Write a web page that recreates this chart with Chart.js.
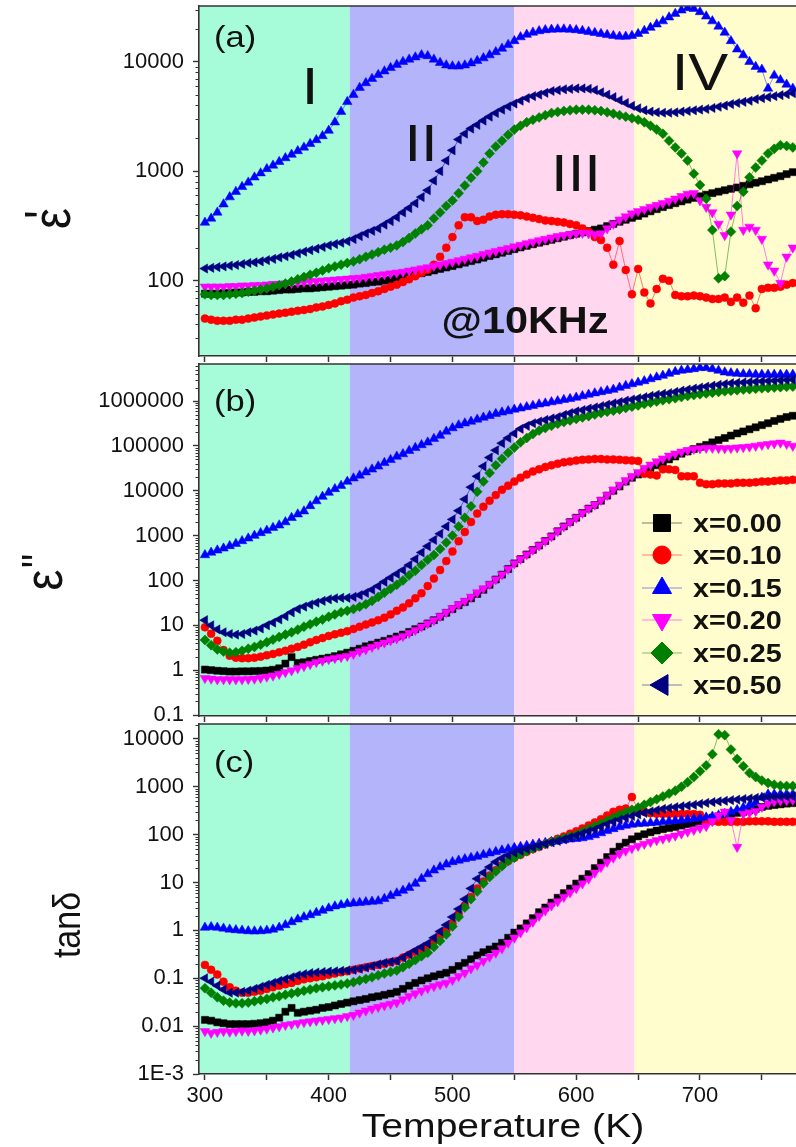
<!DOCTYPE html>
<html>
<head>
<meta charset="utf-8">
<script src="https://cdn.jsdelivr.net/npm/chart.js@4.4.1/dist/chart.umd.min.js"></script>
<style>
html, body { margin: 0; padding: 0; background: #ffffff; overflow: hidden; width: 796px; height: 1147px; }
canvas { position: absolute; left: 0; }
</style>
</head>
<body>
<canvas id="panelA" width="805" height="380" style="top:0px"></canvas>
<canvas id="panelB" width="805" height="380" style="top:358px"></canvas>
<canvas id="panelC" width="805" height="429" style="top:718px"></canvas>
<script>
// Temperature grid (K)
const temperatureK = [
  300,305,310,315,320,325,330,335,340,345,
  350,355,360,365,370,375,380,385,390,395,
  400,405,410,415,420,425,430,435,440,445,
  450,455,460,465,470,475,480,485,490,495,
  500,505,510,515,520,525,530,535,540,545,
  550,555,560,565,570,575,580,585,590,595,
  600,605,610,615,620,625,630,635,640,645,
  650,655,660,665,670,675,680,685,690,695,
  700,705,710,715,720,725,730,735,740,745,
  750,755,760,765,770,775];

const seriesNames = ['x=0.00', 'x=0.10', 'x=0.15', 'x=0.20', 'x=0.25', 'x=0.50'];

// ---- ε' at 10 kHz ----
const eps1_x000 = [
  76,76,76,77,77,78,78,79,79,80, 80,81,82,83,83,84,85,85,86,87,
  88,89,90,91,92,94,95,97,98,100, 102,105,108,111,114,117,120,124,128,132,
  136,141,146,151,156,162,168,174,180,187, 194,201,208,215,222,229,236,244,252,260,
  268,276,284,292,300,315,330,345,360,375, 390,410,430,450,470,490,510,530,550,570,
  590,610,630,650,670,690,710,735,760,785, 810,840,870,900,940,980];
const eps1_x010 = [
  45,44,43,43,43,44,44,45,46,47, 48,49,50,51,52,53,54,55,57,58,
  60,62,65,67,70,72,74,77,80,84, 88,92,97,103,110,118,126,140,165,200,
  250,320,380,380,350,360,385,400,405,405, 400,395,385,375,365,355,350,345,340,330,
  320,300,280,250,235,200,140,230,125,75, 128,78,62,84,104,100,74,72,72,73,
  72,70,68,68,70,64,70,63,73,56, 84,86,86,88,92,95];
const eps1_x015 = [
  340,370,420,500,580,650,720,790,880,960, 1050,1130,1220,1320,1420,1530,1650,1780,1930,2100,
  2350,2800,3500,4300,5000,5800,6400,7000,7600,8200, 8800,9400,10000,10500,11000,11500,11300,10500,9800,9300,
  9100,9100,9300,9700,10200,10800,11500,12300,13200,14300, 15500,16800,17700,18500,19100,19500,19700,19800,19800,19700,
  19500,19200,18800,18400,18000,17600,17300,17000,17000,17300, 18000,19200,20500,22000,23500,25500,27500,29500,31000,30500,
  28500,26000,23500,21000,18500,15500,13000,11500,10000,9000, 8500,5700,7500,6800,6200,5700];
const eps1_x020 = [
  88,88,88,88,89,89,90,90,91,91, 92,93,93,94,95,96,97,98,99,100,
  101,102,103,104,105,106,108,110,112,114, 116,118,120,123,126,129,132,136,140,144,
  148,153,158,163,168,174,180,186,192,198, 205,212,219,226,233,240,247,254,260,265,
  270,272,270,265,270,300,330,360,385,410, 430,450,470,490,510,535,560,590,620,630,
  540,470,420,330,260,400,1450,290,310,290, 240,140,123,95,165,200];
const eps1_x025 = [
  75,74,74,74,75,76,77,79,81,83, 85,88,91,94,98,103,108,113,118,124,
  130,135,140,145,150,157,165,173,182,192, 200,210,225,245,270,295,320,370,420,480,
  540,630,740,870,1000,1200,1450,1680,1900,2150, 2400,2600,2800,2950,3100,3250,3400,3480,3550,3600,
  3650,3650,3650,3600,3550,3450,3350,3250,3150,3050, 2950,2800,2600,2400,2200,1900,1650,1450,1250,950,
  750,560,290,105,110,280,480,650,880,1080, 1250,1450,1600,1730,1700,1650];
const eps1_x050 = [
  129,131,133,135,137,139,142,145,147,150, 154,158,163,167,172,178,184,190,196,203,
  210,216,222,229,240,255,270,285,300,325, 350,380,420,460,510,580,670,820,1000,1250,
  1550,1950,2200,2450,2650,2900,3150,3400,3650,3900, 4150,4400,4650,4850,5000,5200,5400,5500,5600,5650,
  5700,5700,5650,5500,5250,5000,4750,4450,4200,3950, 3750,3600,3500,3450,3420,3420,3450,3500,3550,3600,
  3650,3700,3780,3880,3980,4100,4200,4300,4400,4550, 4650,4750,4850,4950,5050,5150];

// ---- ε'' at 10 kHz ----
const eps2_x000 = [
  1.03,1.0,0.97,0.95,0.93,0.93,0.94,0.94,0.95,0.96, 0.98,1.02,1.1,1.4,1.95,1.45,1.5,1.6,1.7,1.8,
  1.9,2.05,2.25,2.45,2.7,3.0,3.4,3.7,4.1,4.5, 5.0,5.6,6.2,7.1,8.2,9.4,11,13,15.5,19,
  23,28,33,40,50,62,80,105,135,180, 240,300,380,480,600,760,960,1250,1600,2000,
  2500,3200,4000,4800,6000,7800,10000,12500,16000,19500, 23000,27000,32000,37000,43000,50000,58000,67000,75000,85000,
  95000,105000,120000,135000,150000,170000,190000,210000,235000,260000, 290000,320000,360000,400000,440000,470000];
const eps2_x010 = [
  9.0,6.5,4.5,2.8,2.1,1.9,1.85,1.85,1.9,2.0, 2.15,2.3,2.5,2.7,3.0,3.3,3.7,4.2,4.7,5.2,
  5.8,6.3,6.8,7.4,8.3,9.3,10.4,11.6,13,14.8, 17.5,21,25,31,40,52,75,110,170,270,
  440,750,1200,2000,3100,4400,6000,8000,10500,13000, 16000,19500,23000,27000,30000,34000,37000,40000,43000,45000,
  47000,49000,50000,51000,51000,50000,50000,49000,48000,47000, 46000,24000,23000,22000,30000,30000,29000,21000,21000,21000,
  15000,14000,14000,14500,14500,14500,15000,15000,15000,15500, 16000,16000,16500,17000,17000,17500];
const eps2_x015 = [
  370,420,470,520,590,660,760,870,1000,1150, 1300,1500,1700,2000,2500,3000,3500,4600,5900,7400,
  9100,11000,13000,16000,19000,22000,26000,30000,35000,42000, 49000,58000,66000,78000,91000,105000,120000,145000,170000,210000,
  250000,290000,320000,350000,390000,430000,470000,520000,560000,600000, 650000,690000,740000,790000,850000,890000,950000,1.0e6,1.07e6,1.12e6,
  1.2e6,1.3e6,1.4e6,1.5e6,1.6e6,1.7e6,1.8e6,2.0e6,2.2e6,2.4e6, 2.6e6,2.8e6,3.1e6,3.4e6,3.7e6,4.1e6,4.5e6,4.8e6,5.0e6,5.2e6,
  5.5e6,5.5e6,5.2e6,4.8e6,4.4e6,4.2e6,4.1e6,4.0e6,4.0e6,3.9e6, 3.9e6,3.9e6,3.9e6,3.9e6,3.9e6,3.9e6];
const eps2_x020 = [
  0.66,0.64,0.62,0.62,0.62,0.62,0.62,0.63,0.64,0.67, 0.71,0.75,0.82,0.9,0.98,1.1,1.22,1.35,1.5,1.62,
  1.75,1.85,1.95,2.05,2.3,2.6,2.9,3.3,3.7,4.1, 4.6,5.1,5.7,6.7,7.8,9.3,11,13,16,19.5,
  24,29,35,43,54,66,82,105,135,180, 240,300,380,480,600,760,960,1250,1600,2000,
  2500,3200,4000,4900,6200,8000,10500,13500,17000,21000, 26000,32000,38000,45000,52000,60000,67000,74000,80000,85000,
  88000,90000,90000,89000,88000,89000,91000,93000,96000,100000, 105000,109000,113000,117000,110000,100000];
const eps2_x025 = [
  4.7,3.6,2.9,2.6,2.45,2.5,2.7,3.0,3.3,3.7, 4.2,4.8,5.5,6.2,7.0,8.0,9.3,10.5,12,13.5,
  15.5,17.5,19.5,21,23,26,29.5,35,43,53, 65,80,100,130,165,220,290,370,500,700,
  1000,1600,2500,4500,9500,16000,25000,37000,52000,70000, 92000,120000,150000,185000,220000,250000,280000,310000,340000,370000,
  400000,430000,460000,500000,540000,580000,610000,650000,700000,750000, 800000,860000,920000,980000,1.04e6,1.1e6,1.16e6,1.23e6,1.3e6,1.36e6,
  1.42e6,1.48e6,1.54e6,1.6e6,1.66e6,1.7e6,1.75e6,1.8e6,1.84e6,1.88e6, 1.92e6,1.96e6,2.0e6,2.04e6,2.08e6,2.1e6];
const eps2_x050 = [
  13,10,8.1,7.0,6.4,6.2,6.4,7.0,7.6,8.5, 10,11.5,13.5,16,19.5,23,26,29,32,35,
  38,40,41,41,43,47,53,62,75,93, 115,140,170,220,300,420,580,800,1100,1600,
  2300,3600,6500,12000,21000,35000,55000,80000,115000,150000, 190000,240000,280000,320000,350000,380000,410000,440000,490000,540000,
  590000,630000,680000,720000,770000,830000,890000,950000,1.02e6,1.08e6, 1.15e6,1.22e6,1.3e6,1.38e6,1.45e6,1.5e6,1.6e6,1.7e6,1.8e6,1.9e6,
  2.0e6,2.1e6,2.2e6,2.3e6,2.4e6,2.5e6,2.55e6,2.6e6,2.65e6,2.7e6, 2.75e6,2.8e6,2.85e6,2.9e6,2.95e6,3.0e6];

// ---- loss tangent ----
const tan_x000 = [
  0.0135,0.013,0.012,0.0115,0.011,0.011,0.011,0.011,0.0112,0.0115, 0.012,0.013,0.015,0.02,0.024,0.019,0.02,0.021,0.022,0.024,
  0.025,0.027,0.029,0.031,0.033,0.035,0.037,0.04,0.042,0.045, 0.048,0.052,0.06,0.07,0.08,0.09,0.1,0.11,0.12,0.13,
  0.15,0.18,0.21,0.25,0.3,0.35,0.4,0.46,0.55,0.7, 0.9,1.1,1.4,1.8,2.4,3.0,3.8,4.8,6.0,7.5,
  9.5,12,15,20,26,34,44,56,68,80, 92,102,112,122,130,138,145,155,165,175,
  190,205,225,240,255,270,285,300,320,345, 380,400,415,430,445,455];
const tan_x010 = [
  0.19,0.15,0.12,0.085,0.065,0.055,0.05,0.05,0.052,0.055, 0.06,0.065,0.07,0.075,0.08,0.088,0.095,0.1,0.105,0.11,
  0.118,0.125,0.133,0.14,0.15,0.16,0.17,0.18,0.19,0.2, 0.215,0.23,0.27,0.31,0.36,0.41,0.47,0.6,0.78,1.0,
  1.4,2.2,3.3,5.0,7.5,10.5,14,18,23,28, 33,38,44,50,56,63,72,82,92,105,
  118,135,155,180,210,250,300,330,350,610, 330,300,280,275,270,270,270,270,270,270,
  260,190,190,185,185,185,185,185,190,190, 190,190,185,185,185,185];
const tan_x015 = [
  1.15,1.18,1.15,1.1,1.05,1.02,1.0,0.97,0.96,0.97, 1.0,1.05,1.15,1.3,1.5,1.7,1.9,2.1,2.35,2.6,
  2.9,3.2,3.4,3.6,3.7,3.8,3.9,4.0,4.1,4.6, 5.3,6.0,6.8,7.8,9.5,12,15,18,21,24,
  27,29,31,33,35,38,41,44,47,50, 53,56,59,62,65,68,71,74,77,80,
  82,85,90,98,108,120,132,145,155,163, 168,172,176,180,185,190,195,200,208,215,
  222,230,240,255,275,300,330,370,410,470, 600,700,700,700,700,700];
const tan_x020 = [
  0.0078,0.0072,0.0075,0.0078,0.0076,0.0078,0.008,0.0079,0.0081,0.0084, 0.0088,0.0093,0.0098,0.0105,0.011,0.0115,0.012,0.0125,0.013,0.0135,
  0.014,0.0145,0.015,0.016,0.017,0.019,0.021,0.023,0.025,0.027, 0.029,0.031,0.036,0.042,0.048,0.055,0.062,0.068,0.074,0.08,
  0.092,0.11,0.13,0.16,0.19,0.23,0.28,0.34,0.42,0.55, 0.7,0.9,1.15,1.5,2.0,2.6,3.3,4.0,5.0,6.2,
  7.6,9.5,12,16,21,27,33,40,46,52, 58,64,70,76,82,88,95,105,115,125,
  138,150,190,250,300,200,55,270,290,310, 380,450,490,510,520,530];
const tan_x025 = [
  0.062,0.05,0.04,0.034,0.031,0.03,0.03,0.031,0.033,0.035, 0.037,0.04,0.042,0.045,0.048,0.051,0.055,0.058,0.062,0.065,
  0.068,0.071,0.074,0.078,0.083,0.09,0.097,0.105,0.115,0.125, 0.135,0.145,0.17,0.2,0.24,0.29,0.34,0.45,0.6,0.82,
  1.2,1.9,3.0,4.5,6.5,9.5,13,17,22,28, 33,39,45,51,57,64,71,78,85,93,
  100,115,132,150,170,195,225,260,295,330, 370,420,480,550,630,720,830,1000,1250,1600,
  2100,2800,4800,12500,12000,6000,3800,2700,1950,1600, 1350,1200,1100,1050,1040,1040];
const tan_x050 = [
  0.1,0.085,0.07,0.058,0.05,0.05,0.052,0.055,0.06,0.066, 0.073,0.08,0.088,0.096,0.105,0.115,0.122,0.128,0.132,0.135,
  0.138,0.14,0.143,0.146,0.15,0.158,0.168,0.18,0.195,0.21, 0.22,0.23,0.27,0.32,0.38,0.45,0.53,0.7,0.95,1.3,
  1.9,2.8,4.5,7.5,12,16,21,27,32,37, 42,46,50,54,59,64,69,74,80,88,
  96,106,117,128,145,165,185,205,225,245, 265,285,305,325,345,360,375,390,405,420,
  440,460,480,495,510,525,540,555,570,585, 600,610,615,620,625,630];

// axis ticks and labels
const xTickValues = [300, 350, 400, 450, 500, 550, 600, 650, 700, 750];
const xTickLabels = [300, 400, 500, 600, 700];
const yTicksA = [100, 1000, 10000];
const yLabelsA = ['100', '1000', '10000'];
const yTicksB = [0.1, 1, 10, 100, 1000, 10000, 100000, 1000000];
const yLabelsB = ['0.1', '1', '10', '100', '1000', '10000', '100000', '1000000'];
const yTicksC = [0.001, 0.01, 0.1, 1, 10, 100, 1000, 10000];
const yLabelsC = ['1E-3', '0.01', '0.1', '1', '10', '100', '1000', '10000'];

// temperature regions I-IV
const regionEdges = [417, 550, 647];
const regionNames = ['I', 'II', 'III', 'IV'];
const regionColors = ['#a6fbd8', '#b4b4fb', '#ffd7ef', '#fffccd'];

const FONT = '"Liberation Sans", Arial, Helvetica, sans-serif';
const STRETCH = 1.15;
const X_MIN = 295.2, X_MAX = 780;
const AXIS_COLOR = '#333333';

const colors = ['#000000', '#ff0000', '#0000ff', '#ff00ff', '#008000', '#000080'];
const lineColors = ['rgba(0,0,0,0.5)', 'rgba(255,0,0,0.5)', 'rgba(0,0,255,0.45)',
                    'rgba(255,0,255,0.5)', 'rgba(0,128,0,0.5)', 'rgba(0,0,128,0.5)'];
const markers = [
  { style: 'rect', rot: 0, r: 5, lr: 12 },
  { style: 'circle', rot: 0, r: 4, lr: 9 },
  { style: 'triangle', rot: 0, r: 5.5, lr: 11 },
  { style: 'triangle', rot: 180, r: 5.5, lr: 11 },
  { style: 'rectRot', rot: 0, r: 5, lr: 11 },
  { style: 'triangle', rot: -90, r: 5.3, lr: 12 }
];

function drawLabel(ctx, str, x, y, font, align) {
  ctx.save();
  ctx.translate(x, y);
  ctx.scale(STRETCH, 1);
  ctx.font = font;
  ctx.fillStyle = '#111111';
  ctx.textAlign = align;
  ctx.textBaseline = 'alphabetic';
  ctx.fillText(str, 0, 0);
  ctx.restore();
}

function drawRotated(ctx, parts, cx, cy) {
  ctx.save();
  ctx.translate(cx, cy);
  ctx.scale(STRETCH, 1);
  ctx.rotate(-Math.PI / 2);
  ctx.fillStyle = '#111111';
  ctx.textAlign = 'center';
  ctx.textBaseline = 'alphabetic';
  parts.forEach(p => { ctx.font = p.font; ctx.fillText(p.text, p.gx, p.gy); });
  ctx.restore();
}

function drawMarker(ctx, m, x, y, color) {
  ctx.fillStyle = color;
  ctx.strokeStyle = color;
  ctx.lineWidth = 1;
  if (Chart.helpers && Chart.helpers.drawPoint) {
    Chart.helpers.drawPoint(ctx, { pointStyle: m.style, rotation: m.rot, radius: m.lr, borderWidth: 1 }, x, y);
  } else {
    ctx.beginPath(); ctx.arc(x, y, m.lr, 0, Math.PI * 2); ctx.fill();
  }
}

function isDecade(v) {
  const e = Math.log10(v);
  return Math.abs(e - Math.round(e)) < 1e-6;
}

const bandPlugin = {
  id: 'regionBands',
  beforeDraw(chart) {
    const { ctx, chartArea: a, scales: { x } } = chart;
    const edges = [X_MIN, ...regionEdges, X_MAX];
    ctx.save();
    for (let i = 0; i < regionColors.length; i++) {
      const x0 = x.getPixelForValue(edges[i]);
      const x1 = x.getPixelForValue(edges[i + 1]);
      ctx.fillStyle = regionColors[i];
      ctx.fillRect(x0, a.top, x1 - x0, a.bottom - a.top);
    }
    ctx.restore();
  }
};

function overlayPlugin(panel) {
  return {
    id: 'overlay_' + panel.id,
    afterDatasetsDraw(chart) {
      const { ctx, chartArea: a, scales: { y } } = chart;
      const t = panel.top;
      ctx.save();
      ctx.strokeStyle = AXIS_COLOR;
      // top frame line
      ctx.lineWidth = 1.6;
      ctx.beginPath();
      ctx.moveTo(a.left, a.top);
      ctx.lineTo(a.right, a.top);
      ctx.stroke();
      // short minor ticks on the log axis
      ctx.lineWidth = 1.2;
      ctx.beginPath();
      y.ticks.forEach(tk => {
        if (isDecade(tk.value)) return;
        const py = Math.round(y.getPixelForValue(tk.value)) + 0.5;
        ctx.moveTo(a.left - 3.5, py);
        ctx.lineTo(a.left, py);
      });
      ctx.stroke();
      ctx.restore();
      panel.texts.forEach(s => drawLabel(ctx, s.text, s.x, s.y - t, s.font, s.align));
      drawRotated(ctx, panel.title, panel.titleX, panel.titleY - t);
      if (panel.xTitle) {
        drawLabel(ctx, 'Temperature (K)', 503, 1137 - t, '34px ' + FONT, 'center');
      }
      if (panel.legend) {
        const rows = [523, 555, 588, 620, 653, 685];
        rows.forEach((py, i) => {
          const yy = py - t;
          ctx.save();
          ctx.strokeStyle = lineColors[i];
          ctx.lineWidth = 1.2;
          ctx.beginPath();
          ctx.moveTo(642, yy);
          ctx.lineTo(682, yy);
          ctx.stroke();
          drawMarker(ctx, markers[i], 662, yy, colors[i]);
          ctx.restore();
          drawLabel(ctx, seriesNames[i], 693, yy + 9, 'bold 25px ' + FONT, 'left');
        });
      }
    }
  };
}

function logTicks(min, max) {
  const out = [];
  for (let e = Math.floor(Math.log10(min)); e <= Math.ceil(Math.log10(max)); e++) {
    for (let m = 1; m <= 9; m++) {
      const v = m * Math.pow(10, e);
      if (v >= min * 0.999 && v <= max * 1.001) out.push({ value: v });
    }
  }
  return out;
}

function buildPanel(panel) {
  const datasets = panel.series.map((vals, i) => ({
    label: seriesNames[i],
    data: vals.map((v, j) => ({ x: temperatureK[j], y: v })),
    borderColor: lineColors[i],
    borderWidth: 1,
    backgroundColor: colors[i],
    pointStyle: markers[i].style,
    pointRotation: markers[i].rot,
    pointRadius: markers[i].r,
    pointBackgroundColor: colors[i],
    pointBorderColor: colors[i],
    pointBorderWidth: 0.5,
    tension: 0,
    fill: false,
    order: 5 - i
  }));
  return new Chart(document.getElementById(panel.id), {
    type: 'line',
    data: { datasets },
    options: {
      responsive: false,
      animation: false,
      devicePixelRatio: 1,
      events: [],
      layout: { padding: { top: 6, left: 0, right: 0, bottom: 0 } },
      plugins: { legend: { display: false }, tooltip: { enabled: false } },
      scales: {
        x: {
          type: 'linear',
          min: X_MIN,
          max: X_MAX,
          afterBuildTicks: s => { s.ticks = xTickValues.map(v => ({ value: v })); },
          afterFit: s => { s.height = panel.xAxisHeight; s.paddingLeft = 0; s.paddingRight = 0; },
          ticks: {
            autoSkip: false, maxRotation: 0, minRotation: 0, padding: 3,
            color: '#111111', font: { family: FONT, size: 22 },
            callback: v => (panel.xLabels && xTickLabels.includes(v)) ? String(v) : ''
          },
          grid: { drawOnChartArea: false, drawTicks: true, tickLength: 6, tickColor: AXIS_COLOR, tickWidth: 1.5 },
          border: { display: true, color: AXIS_COLOR, width: 1.6 }
        },
        y: {
          type: 'logarithmic',
          min: panel.yMin,
          max: panel.yMax,
          afterBuildTicks: s => { s.ticks = logTicks(panel.yMin, panel.yMax); },
          afterFit: s => { s.width = 199; s.paddingTop = 0; s.paddingBottom = 0; },
          ticks: {
            autoSkip: false, padding: 9, color: '#111111', font: { family: FONT, size: 22 },
            callback: v => {
              const k = panel.yTicks.findIndex(tv => Math.abs(tv - v) / tv < 1e-6);
              return k >= 0 ? panel.yLabels[k] : '';
            }
          },
          grid: {
            drawOnChartArea: false, drawTicks: true, tickLength: 6, tickWidth: 1.4,
            tickColor: c => (c.tick && isDecade(c.tick.value)) ? AXIS_COLOR : 'rgba(0,0,0,0)'
          },
          border: { display: true, color: AXIS_COLOR, width: 1.6 }
        }
      }
    },
    plugins: [bandPlugin, overlayPlugin(panel)]
  });
}

const big = '52px ' + FONT;

buildPanel({
  id: 'panelA', top: 0, xAxisHeight: 24, yMin: 20.5, yMax: 32300,
  yTicks: yTicksA, yLabels: yLabelsA, xLabels: false,
  series: [eps1_x000, eps1_x010, eps1_x015, eps1_x020, eps1_x025, eps1_x050],
  title: [{ text: 'ε', font: '47px ' + FONT, gx: 0, gy: 12.5 }, { text: "'", font: '47px ' + FONT, gx: 4, gy: 5.6 }],
  titleX: 56, titleY: 218.5,
  texts: [
    { text: '(a)', x: 214, y: 47, font: '30px ' + FONT, align: 'left' },
    { text: regionNames[0], x: 310, y: 104, font: big, align: 'center' },
    { text: regionNames[1], x: 421, y: 161, font: big, align: 'center' },
    { text: regionNames[2], x: 576, y: 191, font: big, align: 'center' },
    { text: regionNames[3], x: 700, y: 90, font: big, align: 'center' },
    { text: '@10KHz', x: 525, y: 333, font: 'bold 36px ' + FONT, align: 'center' }
  ]
});

buildPanel({
  id: 'panelB', top: 358, xAxisHeight: 22, yMin: 0.095, yMax: 6.7e6,
  yTicks: yTicksB, yLabels: yLabelsB, xLabels: false, legend: true,
  series: [eps2_x000, eps2_x010, eps2_x015, eps2_x020, eps2_x025, eps2_x050],
  title: [{ text: 'ε', font: '47px ' + FONT, gx: 0, gy: 12.5 }, { text: '"', font: '40px ' + FONT, gx: 19, gy: 5.8 }],
  titleX: 47.5, titleY: 580,
  texts: [ { text: '(b)', x: 214, y: 411, font: '30px ' + FONT, align: 'left' } ]
});

buildPanel({
  id: 'panelC', top: 718, xAxisHeight: 73, yMin: 0.001, yMax: 20500,
  yTicks: yTicksC, yLabels: yLabelsC, xLabels: true, xTitle: true,
  series: [tan_x000, tan_x010, tan_x015, tan_x020, tan_x025, tan_x050],
  title: [{ text: 'tanδ', font: '34px ' + FONT, gx: 0, gy: 13 }],
  titleX: 65, titleY: 925,
  texts: [ { text: '(c)', x: 214, y: 772, font: '30px ' + FONT, align: 'left' } ]
});
</script>
</body>
</html>
